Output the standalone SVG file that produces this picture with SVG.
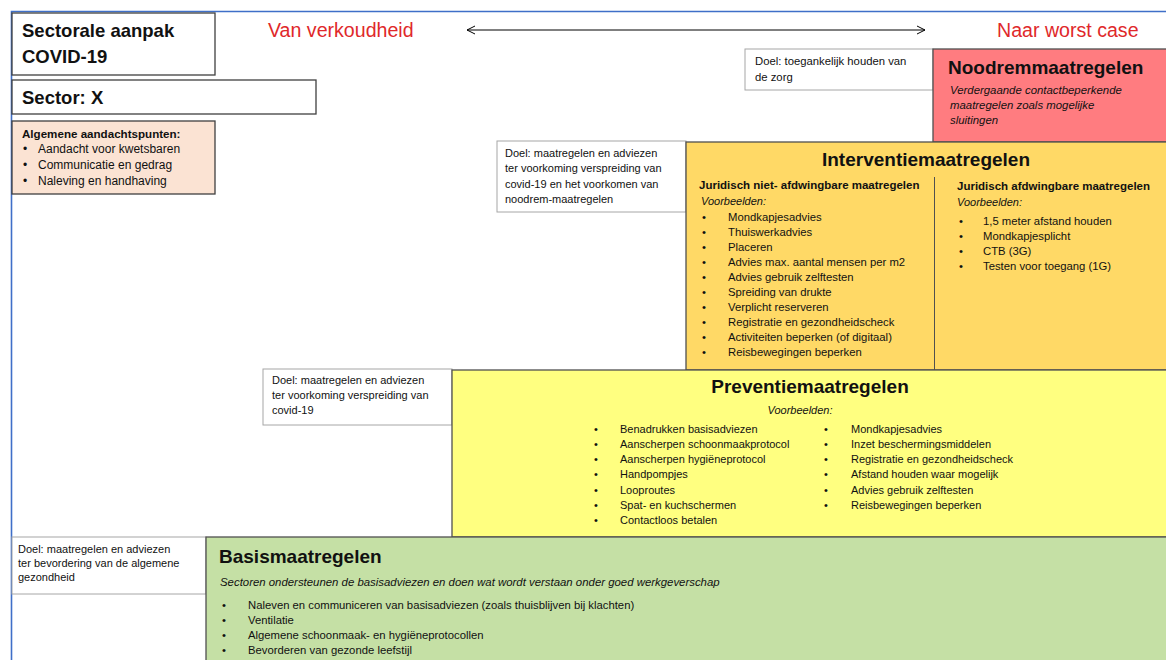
<svg xmlns="http://www.w3.org/2000/svg" width="1166" height="660" viewBox="0 0 1166 660">
<defs>
<marker id="chev" viewBox="0 0 10 10" refX="9" refY="5" markerWidth="10" markerHeight="10" markerUnits="userSpaceOnUse" orient="auto-start-reverse">
<path d="M1,1 L9,5 L1,9" fill="none" stroke="#000" stroke-width="1"/>
</marker>
<style>
text{font-family:"Liberation Sans",Arial,sans-serif;fill:#111;}
.big{font-size:18.5px;font-weight:bold;}
.red{font-size:19.6px;fill:#E0282A;}
.ttl{font-size:19px;font-weight:bold;}
.s{font-size:11px;}
.sl{font-size:11.3px;}
.sa{font-size:12px;}
.sb{font-size:11.5px;font-weight:bold;}
.sab{font-size:11.6px;font-weight:bold;}
.si{font-size:11px;font-style:italic;}
.sil{font-size:11.4px;font-style:italic;}
.doel{fill:#fff;stroke:#A6A6A6;stroke-width:1;}
.plain{fill:#fff;stroke:#404040;stroke-width:1.3;}
.col{stroke:#505050;stroke-width:1.3;}
</style>
</defs>
<rect x="0" y="0" width="1166" height="660" fill="#fff"/>
<path d="M11.5,660 V11.5 H1166" fill="none" stroke="#3F6FC8" stroke-width="1.6"/>

<g id="title">
<rect class="plain" x="12" y="13" width="203" height="62"/>
<text class="big" x="22" y="37">Sectorale aanpak</text>
<text class="big" x="22" y="63">COVID-19</text>
</g>
<g id="sector">
<rect class="plain" x="12" y="80" width="304" height="34"/>
<text class="big" x="22" y="104">Sector: X</text>
</g>
<g id="algemeen">
<rect class="plain" x="12" y="121" width="203" height="73" style="fill:#FBE3D3"/>
<text class="sab" x="22" y="138">Algemene aandachtspunten:</text>
<text class="sa" x="23" y="153">•</text><text class="sa" x="38" y="153">Aandacht voor kwetsbaren</text>
<text class="sa" x="23" y="169">•</text><text class="sa" x="38" y="169">Communicatie en gedrag</text>
<text class="sa" x="23" y="185">•</text><text class="sa" x="38" y="185">Naleving en handhaving</text>
</g>

<g id="scale-labels">
<text class="red" x="268" y="37">Van verkoudheid</text>
<text class="red" x="997" y="37">Naar worst case</text>
</g>
<g id="connectors">
<line x1="467" y1="30" x2="925" y2="30" stroke="#000" stroke-width="1" marker-start="url(#chev)" marker-end="url(#chev)"/>
</g>

<g id="doel-noodrem">
<rect class="doel" x="745" y="49" width="188" height="41"/>
<text class="sl" x="755" y="65">Doel: toegankelijk houden van</text>
<text class="sl" x="755" y="81">de zorg</text>
</g>
<g id="noodrem">
<rect class="col" x="933" y="49" width="240" height="93" fill="#FF7C80"/>
<text class="ttl" x="948" y="74">Noodremmaatregelen</text>
<text class="sil" x="950" y="94">Verdergaande contactbeperkende</text>
<text class="sil" x="950" y="109">maatregelen zoals mogelijke</text>
<text class="sil" x="950" y="124">sluitingen</text>
</g>

<g id="doel-interventie">
<rect class="doel" x="497" y="141" width="189" height="71"/>
<text class="s" x="505" y="157">Doel: maatregelen en adviezen</text>
<text class="s" x="505" y="172">ter voorkoming verspreiding van</text>
<text class="s" x="505" y="188">covid-19 en het voorkomen van</text>
<text class="s" x="505" y="203">noodrem-maatregelen</text>
</g>
<g id="interventie">
<rect class="col" x="686" y="142" width="487" height="228" fill="#FFD966"/>
<text class="ttl" x="926" y="166" text-anchor="middle">Interventiemaatregelen</text>
<line x1="934.5" y1="177" x2="934.5" y2="370" stroke="#505050" stroke-width="1"/>
<text class="sb" x="699" y="189">Juridisch niet- afdwingbare maatregelen</text>
<text class="si" x="701" y="205">Voorbeelden:</text>
<text class="sl" x="702" y="221">•</text><text class="sl" x="728" y="221">Mondkapjesadvies</text>
<text class="sl" x="702" y="236">•</text><text class="sl" x="728" y="236">Thuiswerkadvies</text>
<text class="sl" x="702" y="251">•</text><text class="sl" x="728" y="251">Placeren</text>
<text class="sl" x="702" y="266">•</text><text class="sl" x="728" y="266">Advies max. aantal mensen per m2</text>
<text class="sl" x="702" y="281">•</text><text class="sl" x="728" y="281">Advies gebruik zelftesten</text>
<text class="sl" x="702" y="296">•</text><text class="sl" x="728" y="296">Spreiding van drukte</text>
<text class="sl" x="702" y="311">•</text><text class="sl" x="728" y="311">Verplicht reserveren</text>
<text class="sl" x="702" y="326">•</text><text class="sl" x="728" y="326">Registratie en gezondheidscheck</text>
<text class="sl" x="702" y="341">•</text><text class="sl" x="728" y="341">Activiteiten beperken (of digitaal)</text>
<text class="sl" x="702" y="356">•</text><text class="sl" x="728" y="356">Reisbewegingen beperken</text>
<text class="sb" x="957" y="190">Juridisch afdwingbare maatregelen</text>
<text class="si" x="957" y="206">Voorbeelden:</text>
<text class="sl" x="959" y="225">•</text><text class="sl" x="983" y="225">1,5 meter afstand houden</text>
<text class="sl" x="959" y="240">•</text><text class="sl" x="983" y="240">Mondkapjesplicht</text>
<text class="sl" x="959" y="255">•</text><text class="sl" x="983" y="255">CTB (3G)</text>
<text class="sl" x="959" y="270">•</text><text class="sl" x="983" y="270">Testen voor toegang (1G)</text>
</g>

<g id="doel-preventie">
<rect class="doel" x="263" y="369" width="189" height="56"/>
<text class="s" x="272" y="384">Doel: maatregelen en adviezen</text>
<text class="s" x="272" y="399">ter voorkoming verspreiding van</text>
<text class="s" x="272" y="414">covid-19</text>
</g>
<g id="preventie">
<rect class="col" x="452" y="370" width="721" height="167" fill="#FFFF80"/>
<text class="ttl" x="810" y="393" text-anchor="middle">Preventiemaatregelen</text>
<text class="si" x="800" y="414" text-anchor="middle">Voorbeelden:</text>
<text class="s" x="594" y="433">•</text><text class="s" x="620" y="433">Benadrukken basisadviezen</text>
<text class="s" x="594" y="448">•</text><text class="s" x="620" y="448">Aanscherpen schoonmaakprotocol</text>
<text class="s" x="594" y="463">•</text><text class="s" x="620" y="463">Aanscherpen hygiëneprotocol</text>
<text class="s" x="594" y="478">•</text><text class="s" x="620" y="478">Handpompjes</text>
<text class="s" x="594" y="494">•</text><text class="s" x="620" y="494">Looproutes</text>
<text class="s" x="594" y="509">•</text><text class="s" x="620" y="509">Spat- en kuchschermen</text>
<text class="s" x="594" y="524">•</text><text class="s" x="620" y="524">Contactloos betalen</text>
<text class="s" x="824" y="433">•</text><text class="s" x="851" y="433">Mondkapjesadvies</text>
<text class="s" x="824" y="448">•</text><text class="s" x="851" y="448">Inzet beschermingsmiddelen</text>
<text class="s" x="824" y="463">•</text><text class="s" x="851" y="463">Registratie en gezondheidscheck</text>
<text class="s" x="824" y="478">•</text><text class="s" x="851" y="478">Afstand houden waar mogelijk</text>
<text class="s" x="824" y="494">•</text><text class="s" x="851" y="494">Advies gebruik zelftesten</text>
<text class="s" x="824" y="509">•</text><text class="s" x="851" y="509">Reisbewegingen beperken</text>
</g>

<g id="doel-basis">
<rect class="doel" x="12" y="537" width="194" height="57"/>
<text class="s" x="18" y="553">Doel: maatregelen en adviezen</text>
<text class="s" x="18" y="567">ter bevordering van de algemene</text>
<text class="s" x="18" y="581">gezondheid</text>
</g>
<g id="basis">
<rect class="col" x="206" y="537" width="967" height="130" fill="#C5E0A5"/>
<text class="ttl" x="219" y="563">Basismaatregelen</text>
<text class="sil" x="220" y="586">Sectoren ondersteunen de basisadviezen en doen wat wordt verstaan onder goed werkgeverschap</text>
<text class="sl" x="222" y="609">•</text><text class="sl" x="248" y="609">Naleven en communiceren van basisadviezen (zoals thuisblijven bij klachten)</text>
<text class="sl" x="222" y="624">•</text><text class="sl" x="248" y="624">Ventilatie</text>
<text class="sl" x="222" y="639">•</text><text class="sl" x="248" y="639">Algemene schoonmaak- en hygiëneprotocollen</text>
<text class="sl" x="222" y="654">•</text><text class="sl" x="248" y="654">Bevorderen van gezonde leefstijl</text>
</g>
</svg>
